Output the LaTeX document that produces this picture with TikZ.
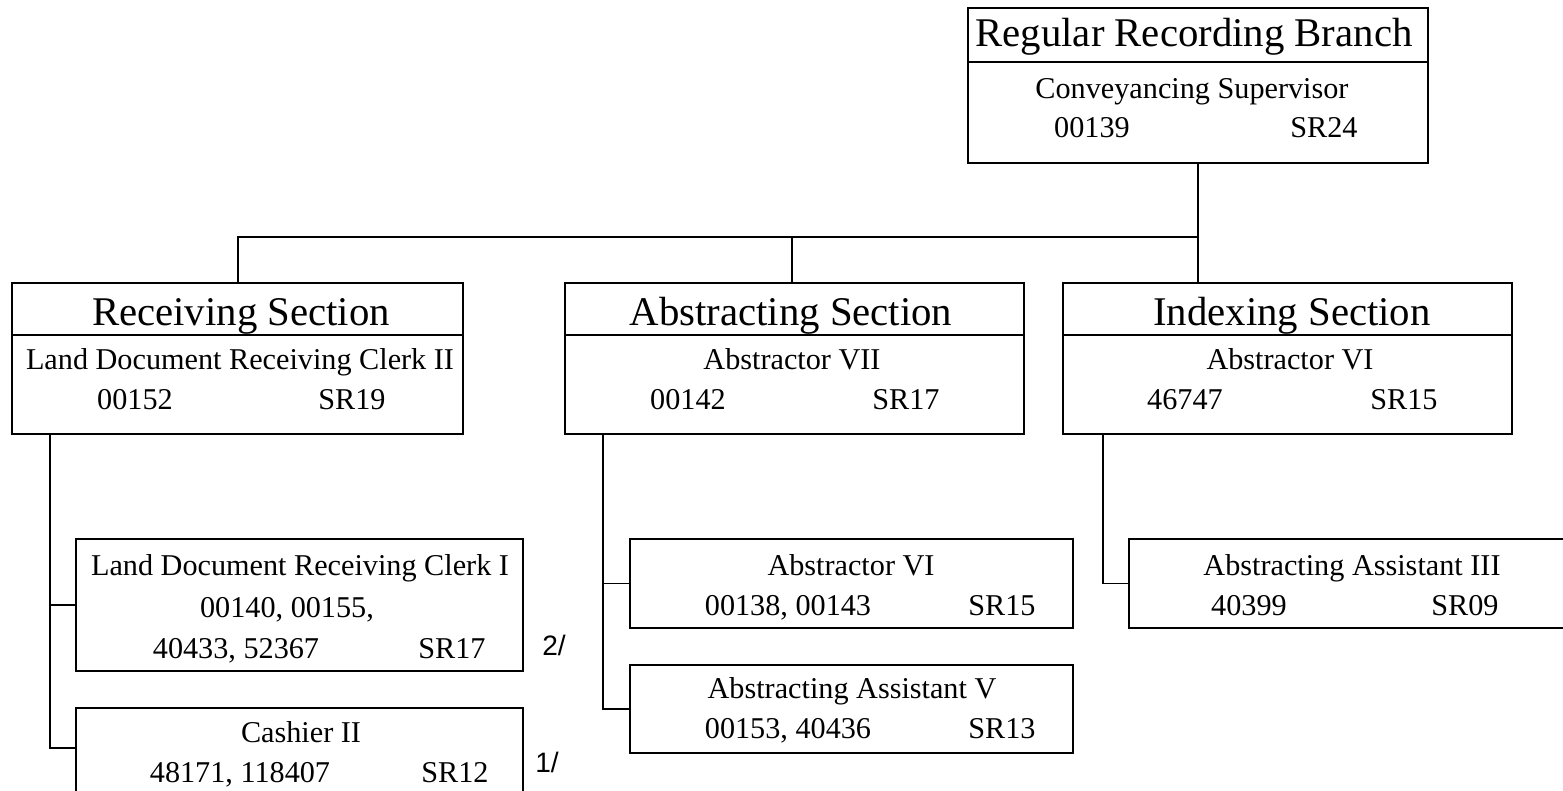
\documentclass[tikz,border=0pt]{standalone}
\usepackage{fontspec}
\setmainfont{Liberation Serif}
\newfontfamily\notefont{Liberation Sans}
\usetikzlibrary{positioning}

\tikzset{
  unit/.style={draw, line width=1.1pt, inner sep=0pt},
  head/.style={anchor=base, inner sep=0pt, font=\fontsize{23.2}{27}\selectfont},
  entry/.style={anchor=base, inner sep=0pt, font=\fontsize{17.2}{20}\selectfont},
  note/.style={anchor=base west, inner sep=0pt, font=\notefont\fontsize{16}{19}\selectfont},
  link/.style={line width=0.85pt}
}

\begin{document}
\begin{tikzpicture}[x=0.02cm, y=-0.02cm]
\useasboundingbox (0,0) rectangle (1563,791);
\clip (0,0) rectangle (1563,791);
% Branch
\node[unit, minimum width=460*0.02cm, minimum height=155*0.02cm] (branch) at (1198,85.5) {};
\draw[link] (branch.west |- 0,62) -- (branch.east |- 0,62);
\node[head] (branchname) at (1194,47) {Regular Recording Branch};
\node[entry] (branchjob) at (1192,98) {Conveyancing Supervisor};
\node[entry] (branchnum) at (1092,137) {00139};
\node[entry] (branchsr) at (1324,137) {SR24};
% Sections
\node[unit, minimum width=451*0.02cm, minimum height=151*0.02cm] (recv) at (237.5,358.5) {};
\node[unit, minimum width=459*0.02cm, minimum height=151*0.02cm] (abst) at (794.5,358.5) {};
\node[unit, minimum width=449*0.02cm, minimum height=151*0.02cm] (indx) at (1287.5,358.5) {};
\draw[link] (recv.west |- 0,335) -- (recv.east |- 0,335);
\draw[link] (abst.west |- 0,335) -- (abst.east |- 0,335);
\draw[link] (indx.west |- 0,335) -- (indx.east |- 0,335);
\node[head] (recvname) at (241,325) {Receiving Section};
\node[entry] (recvjob) at (240,369) {Land Document Receiving Clerk II};
\node[entry] (recvnum) at (135,409) {00152};
\node[entry] (recvsr) at (352,409) {SR19};
\node[head] (abstname) at (791,325) {Abstracting Section};
\node[entry] (abstjob) at (792,369) {Abstractor VII};
\node[entry] (abstnum) at (688,409) {00142};
\node[entry] (abstsr) at (906,409) {SR17};
\node[head] (indxname) at (1292,325) {Indexing Section};
\node[entry] (indxjob) at (1290,369) {Abstractor VI};
\node[entry] (indxnum) at (1185,409) {46747};
\node[entry] (indxsr) at (1404,409) {SR15};
% bus from branch to sections
\coordinate (busL) at (238,237);
\coordinate (busR) at (1198,237);
\draw[link] (branch.south) -- (busR);
\draw[link] (busL |- recv.north) -- (busL) -- (busR) -- (busR |- indx.north);
\draw[link] (abst.north -| 792,0) -- (busL -| 792,0);
% Receiving units
\node[unit, minimum width=447*0.02cm, minimum height=132*0.02cm] (clerk) at (299.5,605) {};
\node[unit, minimum width=447*0.02cm, minimum height=92*0.02cm] (cash) at (299.5,754) {};
\node[entry] (clerkjob) at (300,575) {Land Document Receiving Clerk I};
\node[entry] (clerknumA) at (287,617) {00140, 00155,};
\node[entry] (clerknumB) at (236,658) {40433, 52367};
\node[entry] (clerksr) at (452,658) {SR17};
\node[entry] (cashjob) at (301,742) {Cashier II};
\node[entry] (cashnum) at (240,782) {48171, 118407};
\node[entry] (cashsr) at (455,782) {SR12};
\node[note] (clerknote) at (542,655) {2/};
\node[note] (cashnote) at (535,772) {1/};
\coordinate (rspine) at (50,0);
\draw[link] (rspine |- recv.south) |- ([yshift=0.12cm]cash.west);
\draw[link] (rspine |- clerk.west) -- (clerk.west);
% Abstracting units
\node[unit, minimum width=443*0.02cm, minimum height=89*0.02cm] (absvi) at (851.5,583.5) {};
\node[unit, minimum width=443*0.02cm, minimum height=88*0.02cm] (asstv) at (851.5,709) {};
\node[entry] (absvijob) at (851,575) {Abstractor VI};
\node[entry] (absvinum) at (788,615) {00138, 00143};
\node[entry] (absvisr) at (1002,615) {SR15};
\node[entry] (asstvjob) at (852,698) {Abstracting Assistant V};
\node[entry] (asstvnum) at (788,738) {00153, 40436};
\node[entry] (asstvsr) at (1002,738) {SR13};
\coordinate (aspine) at (603,0);
\draw[link] (aspine |- abst.south) |- (asstv.west);
\draw[link] (aspine |- absvi.west) -- (absvi.west);
% Indexing unit
\node[unit, minimum width=491*0.02cm, minimum height=89*0.02cm] (asstiii) at (1374.5,583.5) {};
\node[entry] (asstiiijob) at (1352,575) {Abstracting Assistant III};
\node[entry] (asstiiinum) at (1249,615) {40399};
\node[entry] (asstiiisr) at (1465,615) {SR09};
\coordinate (ispine) at (1103,0);
\draw[link] (ispine |- indx.south) |- (asstiii.west);
\end{tikzpicture}
\end{document}
